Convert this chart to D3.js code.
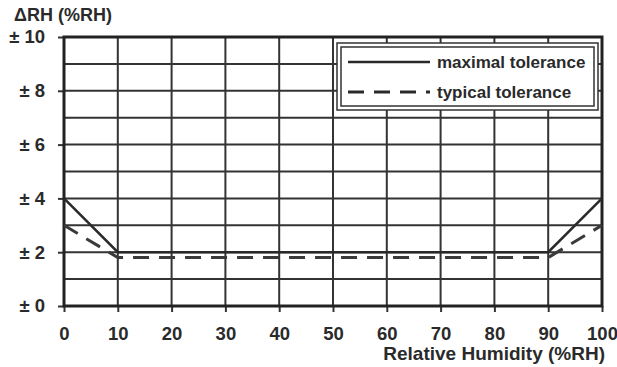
<!DOCTYPE html>
<html>
<head>
<meta charset="utf-8">
<script src="https://cdn.jsdelivr.net/npm/d3@7"></script>
<style>
  body { margin: 0; background: #fff; }
  text { font-family: "Liberation Sans", Arial, sans-serif; font-weight: bold; fill: #2a2a2a; }
</style>
</head>
<body>
<div id="chart"></div>
<script>
var humidity = [0, 10, 90, 100];
var maximalTolerance = [4, 2, 2, 4];
var typicalTolerance = [3, 1.8, 1.8, 3];
var xTicks = [0, 10, 20, 30, 40, 50, 60, 70, 80, 90, 100];
var yTicks = [0, 2, 4, 6, 8, 10];
var yGrid = [0, 1, 2, 3, 4, 5, 6, 7, 8, 9, 10];
var seriesNames = ["maximal tolerance", "typical tolerance"];

var margin = {top: 37, right: 15, bottom: 61, left: 64},
    width = 617 - margin.left - margin.right,
    height = 367 - margin.top - margin.bottom;

var svg = d3.select("#chart")
  .append("svg")
    .attr("width", 617)
    .attr("height", 367)
  .append("g")
    .attr("transform", "translate(" + margin.left + "," + margin.top + ")");

var x = d3.scaleLinear().domain([0, 100]).range([0, width]);
var y = d3.scaleLinear().domain([0, 10]).range([height, 0]);

// grid
svg.append("g")
  .selectAll("line")
  .data(yGrid)
  .enter()
  .append("line")
    .attr("x1", 0).attr("x2", width)
    .attr("y1", function(d) { return y(d); })
    .attr("y2", function(d) { return y(d); })
    .style("stroke", "#333").style("stroke-width", 2);

svg.append("g")
  .selectAll("line")
  .data(xTicks)
  .enter()
  .append("line")
    .attr("y1", 0).attr("y2", height)
    .attr("x1", function(d) { return x(d); })
    .attr("x2", function(d) { return x(d); })
    .style("stroke", "#333").style("stroke-width", 2);

// axes
var xAxis = svg.append("g")
  .attr("transform", "translate(0," + height + ")")
  .call(d3.axisBottom(x).tickValues(xTicks).tickSize(6).tickPadding(15));
var yAxis = svg.append("g")
  .call(d3.axisLeft(y).tickValues(yTicks).tickSize(6).tickPadding(13)
    .tickFormat(function(d) { return "\u00b1 " + d; }));

[xAxis, yAxis].forEach(function(a) {
  a.select(".domain").remove();
  a.selectAll("line").style("stroke", "#333").style("stroke-width", 2);
  a.selectAll("text").style("font-size", "18.5px").style("font-family", "Liberation Sans, Arial, sans-serif")
    .style("font-weight", "bold").style("fill", "#2a2a2a");
});

// frame
svg.append("rect")
  .attr("width", width).attr("height", height)
  .style("fill", "none").style("stroke", "#222").style("stroke-width", 3);

// data lines
var line = d3.line()
  .x(function(d, i) { return x(humidity[i]); })
  .y(function(d) { return y(d); });

svg.append("path")
  .datum(maximalTolerance)
  .attr("d", line)
  .style("fill", "none").style("stroke", "#2a2a2a").style("stroke-width", 2.5);

svg.append("path")
  .datum(typicalTolerance)
  .attr("d", line)
  .style("fill", "none").style("stroke", "#3a3a3a").style("stroke-width", 3)
  .style("stroke-dasharray", "16,10");

// legend
var lg = svg.append("g").attr("transform", "translate(" + (337 - margin.left) + "," + (43 - margin.top) + ")");
lg.append("rect").attr("width", 261).attr("height", 67)
  .style("fill", "#fff").style("stroke", "#333").style("stroke-width", 1.5);
lg.append("rect").attr("x", 4).attr("y", 4).attr("width", 253).attr("height", 59)
  .style("fill", "none").style("stroke", "#333").style("stroke-width", 1.5);

seriesNames.forEach(function(name, i) {
  var ly = 19 + i * 30;
  lg.append("line")
    .attr("x1", 11).attr("x2", 93).attr("y1", ly).attr("y2", ly)
    .style("stroke", "#2a2a2a").style("stroke-width", i === 0 ? 2.5 : 3)
    .style("stroke-dasharray", i === 0 ? null : "16,10");
  lg.append("text")
    .attr("x", 100).attr("y", ly + 6)
    .style("font-size", "17px")
    .text(name);
});

// axis titles
svg.append("text")
  .attr("x", 14 - margin.left).attr("y", 21 - margin.top)
  .style("font-size", "18px")
  .text("\u0394RH (%RH)");

svg.append("text")
  .attr("x", width + 3).attr("y", 360 - margin.top)
  .attr("text-anchor", "end")
  .style("font-size", "19px")
  .text("Relative Humidity (%RH)");
</script>
</body>
</html>
